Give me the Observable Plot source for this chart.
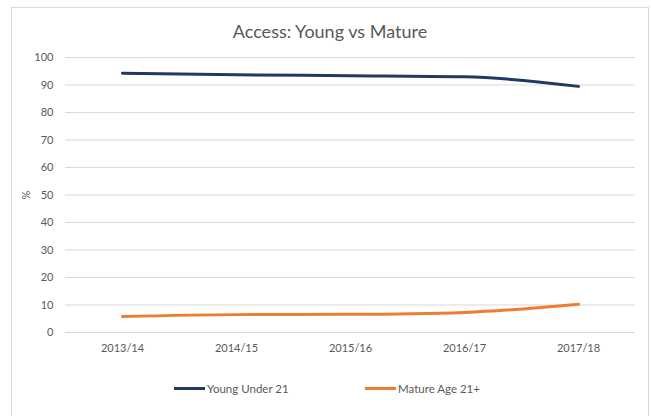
<!DOCTYPE html>
<html>
<head>
<meta charset="utf-8">
<script src="https://cdn.jsdelivr.net/npm/d3@7"></script>
<script src="https://cdn.jsdelivr.net/npm/@observablehq/plot@0.6"></script>
<style>
  html, body { margin: 0; padding: 0; background: #fff; }
  #wrap { position: relative; width: 651px; height: 416px; overflow: hidden; font-family: Lato, "Open Sans", sans-serif; color: #595959; }
  #frame { position: absolute; left: 11px; top: 7px; width: 636px; height: 430px; border: 1px solid #d9d9d9; }
  #title { position: absolute; left: 0; top: 20px; width: 660px; text-align: center; font-size: 18px; color: #595959; }
  #chart { position: absolute; left: 0; top: 0; }
  .leg { position: absolute; top: 382px; font-size: 11.5px; color: #595959; display: flex; align-items: center; white-space: nowrap; }
  .sw { display: inline-block; width: 31px; height: 3px; margin-right: 2px; }
</style>
</head>
<body>
<div id="wrap">
  <div id="frame"></div>
  <div id="title">Access: Young vs Mature</div>
  <div id="chart"></div>
  <div id="legend"></div>
</div>
<script>
const years = ["2013/14", "2014/15", "2015/16", "2016/17", "2017/18"];
const seriesNames = ["Young Under 21", "Mature Age 21+"];
const young = [94.3, 93.7, 93.4, 93.0, 89.5];
const mature = [5.8, 6.5, 6.6, 7.3, 10.3];
const yTicks = [0, 10, 20, 30, 40, 50, 60, 70, 80, 90, 100];
const colors = ["#203864", "#ED7D31"];

const data = [
  ...years.map((y, i) => ({year: y, value: young[i], series: seriesNames[0]})),
  ...years.map((y, i) => ({year: y, value: mature[i], series: seriesNames[1]}))
];

const chart = Plot.plot({
  width: 651,
  height: 362,
  marginLeft: 65,
  marginRight: 16,
  marginTop: 57,
  marginBottom: 30,
  style: {fontFamily: "Lato, 'Open Sans', sans-serif", fontSize: "11px", color: "#595959", background: "transparent"},
  x: {type: "point", domain: years, padding: 0.5, label: null},
  y: {domain: [0, 100], label: "%"},
  color: {domain: seriesNames, range: colors},
  marks: [
    Plot.gridY(yTicks, {stroke: "#d9d9d9", strokeOpacity: 1}),
    Plot.axisY(yTicks, {tickSize: 0, tickPadding: 12, label: "%", labelAnchor: "center", labelOffset: 43, labelArrow: "none"}),
    Plot.axisX({tickSize: 0, tickPadding: 12, label: null}),
    Plot.line(data, {x: "year", y: "value", z: "series", stroke: "series", strokeWidth: 3, curve: "monotone-x"})
  ]
});
document.getElementById("chart").appendChild(chart);

const legend = document.getElementById("legend");
const legX = [174, 365];
seriesNames.forEach((name, i) => {
  const d = document.createElement("div");
  d.className = "leg";
  d.style.left = legX[i] + "px";
  d.innerHTML = `<span class="sw" style="background:${colors[i]}"></span><span>${name}</span>`;
  legend.appendChild(d);
});
</script>
</body>
</html>
